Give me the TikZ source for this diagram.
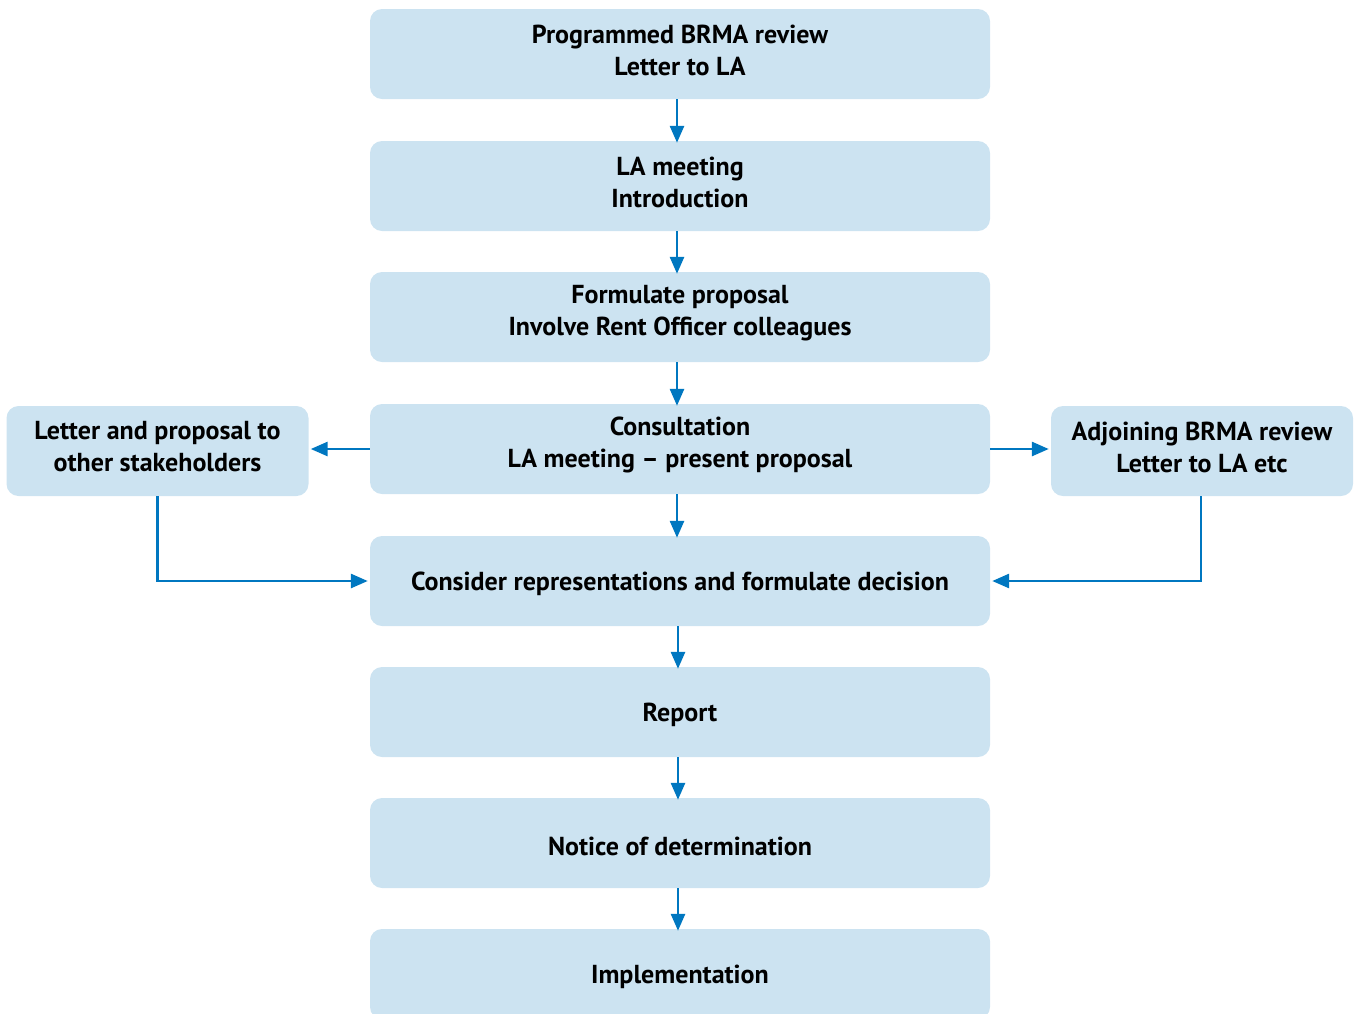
\documentclass[tikz,border=0pt]{standalone}
\usepackage{fontspec}
\setmainfont{PT Sans}
\usetikzlibrary{arrows.meta}
\definecolor{boxfill}{HTML}{CCE3F1}
\definecolor{arrowblue}{HTML}{0077C0}
\begin{document}
\begin{tikzpicture}[x=1pt,y=-1pt,
  flowbox/.style={rectangle, rounded corners=12pt, fill=boxfill, draw=none,
    minimum width=620pt, minimum height=90pt, inner sep=0pt},
  sidebox/.style={flowbox, minimum width=302pt},
  twoline/.style={align=center, inner sep=0pt, yshift=4pt,
    font=\fontsize{26}{32}\selectfont\bfseries},
  oneline/.style={twoline, yshift=-7pt},
  conn/.style={draw=arrowblue, line width=2.8pt, -{Triangle[length=17pt,width=14pt]}}]
\useasboundingbox (0,0) rectangle (1358,1013);
\node[flowbox, label={[twoline]center:{Programmed BRMA review\\Letter to LA}}] (b1) at (680,54) {};
\node[flowbox, label={[twoline]center:{LA meeting\\Introduction}}] (b2) at (680,186) {};
\node[flowbox, label={[twoline]center:{Formulate proposal\\Involve Rent Officer colleagues}}] (b3) at (680,317) {};
\node[flowbox, label={[twoline]center:{Consultation\\LA meeting -- present proposal}}] (b4) at (680,449) {};
\node[flowbox, label={[oneline]center:{Consider representations and formulate decision}}] (b5) at (680,581) {};
\node[flowbox, label={[oneline]center:{Report}}] (b6) at (680,712) {};
\node[flowbox, label={[oneline]center:{Notice of determination}}] (b7) at (680,843) {};
\node[flowbox, label={[oneline]center:{Implementation}}] (b8) at (680,974) {};
\node[sidebox, label={[twoline]center:{Letter and proposal to\\other stakeholders}}] (l) at (157.5,451) {};
\node[sidebox, label={[twoline]center:{Adjoining BRMA review\\Letter to LA etc}}] (r) at (1202,451) {};
\draw[conn] ([xshift=-3pt]b1.south) -- ([xshift=-3pt,yshift=-2pt]b2.north);
\draw[conn] ([xshift=-3pt]b2.south) -- ([xshift=-3pt,yshift=-2pt]b3.north);
\draw[conn] ([xshift=-3pt]b3.south) -- ([xshift=-3pt,yshift=-2pt]b4.north);
\draw[conn] ([xshift=-3pt]b4.south) -- ([xshift=-3pt,yshift=-2pt]b5.north);
\draw[conn] ([xshift=-2pt]b5.south) -- ([xshift=-2pt,yshift=-2pt]b6.north);
\draw[conn] ([xshift=-2pt]b6.south) -- ([xshift=-2pt,yshift=-2pt]b7.north);
\draw[conn] ([xshift=-2pt]b7.south) -- ([xshift=-2pt,yshift=-2pt]b8.north);
\draw[conn] (b4.west) -- ([xshift=2pt]l.east |- b4.west);
\draw[conn] (b4.east) -- ([xshift=-2pt]r.west |- b4.east);
\draw[conn] (l.south) |- ([xshift=-2pt]b5.west);
\draw[conn] ([xshift=-1pt]r.south) |- ([xshift=2pt]b5.east);
\end{tikzpicture}
\end{document}
